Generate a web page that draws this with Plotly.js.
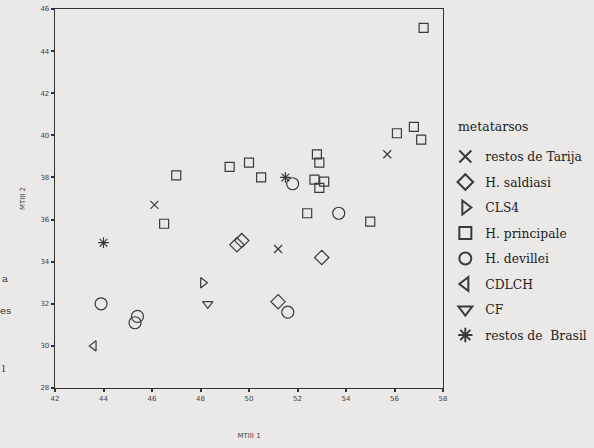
<!DOCTYPE html>
<html>
<head>
<meta charset="utf-8">
<script src="https://cdn.plot.ly/plotly-3.0.1.min.js"></script>
<style>html,body{margin:0;padding:0;background:#ebe8e8;}#chart{width:594px;height:448px;}</style>
</head>
<body>
<div id="chart"></div>
<script>
// Data (MTIII 1 vs MTIII 2)
const tarijaX = [46.1, 51.2, 55.7];
const tarijaY = [36.7, 34.6, 39.1];
const saldiasiX = [49.5, 49.7, 53.0, 51.2];
const saldiasiY = [34.8, 35.0, 34.2, 32.1];
const cls4X = [48.1];
const cls4Y = [33.0];
const principaleX = [47.0, 46.5, 49.2, 50.0, 50.5, 52.8, 52.9, 52.7, 53.1, 52.9, 52.4, 55.0, 56.1, 57.1, 57.2, 56.8];
const principaleY = [38.1, 35.8, 38.5, 38.7, 38.0, 39.1, 38.7, 37.9, 37.8, 37.5, 36.3, 35.9, 40.1, 39.8, 45.1, 40.4];
const devilleiX = [51.8, 53.7, 51.6, 43.9, 45.4, 45.3];
const devilleiY = [37.7, 36.3, 31.6, 32.0, 31.4, 31.1];
const cdlchX = [43.6];
const cdlchY = [30.0];
const cfX = [48.3];
const cfY = [32.0];
const brasilX = [44.0, 51.5];
const brasilY = [34.9, 38.0];
const seriesNames = ["restos de Tarija", "H. saldiasi", "CLS4", "H. principale", "H. devillei", "CDLCH", "CF", "restos de  Brasil"];
const legendTitle = "metatarsos";
const xTicks = [42, 44, 46, 48, 50, 52, 54, 56, 58];
const yTicks = [28, 30, 32, 34, 36, 38, 40, 42, 44, 46];

const ink = '#3a3a3a';
function tr(x, y, name, symbol, size, i) {
  return {
    type: 'scatter', mode: 'markers', x: x, y: y, name: name, legendgroup: 'g' + i,
    marker: {symbol: symbol, size: size, color: ink, line: {color: ink, width: 1.2}},
    hoverinfo: 'skip'
  };
}
const data = [
  tr(tarijaX, tarijaY, seriesNames[0], 'x-thin-open', 8, 0),
  tr(saldiasiX, saldiasiY, seriesNames[1], 'diamond-open', 11, 1),
  tr(cls4X, cls4Y, seriesNames[2], 'triangle-right-open', 9, 2),
  tr(principaleX, principaleY, seriesNames[3], 'square-open', 9, 3),
  tr(devilleiX, devilleiY, seriesNames[4], 'circle-open', 12, 4),
  tr(cdlchX, cdlchY, seriesNames[5], 'triangle-left-open', 9, 5),
  tr(cfX, cfY, seriesNames[6], 'triangle-down-open', 9, 6),
  tr(brasilX, brasilY, seriesNames[7], 'asterisk-open', 9, 7)
];

const axisCommon = {
  showgrid: false, zeroline: false, showline: true, linecolor: '#333', linewidth: 1.3,
  mirror: true, ticks: 'outside', ticklen: 3, tickwidth: 2, tickcolor: '#333',
  tickfont: {family: 'DejaVu Sans, sans-serif', size: 7, color: '#444'}
};
const serif = 'DejaVu Serif, serif';
const layout = {
  width: 594, height: 448,
  paper_bgcolor: '#ebe8e8', plot_bgcolor: '#ebe8e8',
  margin: {l: 55, r: 151, t: 9, b: 60, autoexpand: false},
  showlegend: true,
  xaxis: Object.assign({}, axisCommon, {
    range: [42, 58], tickvals: xTicks, ticktext: xTicks.map(String),
    title: {text: 'MTIII 1', standoff: 31, font: {family: 'DejaVu Sans, sans-serif', size: 7, color: '#444'}}
  }),
  yaxis: Object.assign({}, axisCommon, {
    range: [28, 46], tickvals: yTicks, ticktext: yTicks.map(String),
    title: {text: 'MTIII 2', standoff: 14, font: {family: 'DejaVu Sans, sans-serif', size: 7, color: '#444'}}
  }),
  legend: {
    x: 1.006, xanchor: 'left', y: (388 - 142) / 379, yanchor: 'top',
    bgcolor: 'rgba(0,0,0,0)', borderwidth: 0,
    itemsizing: 'constant', tracegroupgap: 6.5,
    font: {family: serif, size: 12.3, color: '#222'}
  },
  annotations: [
    {text: legendTitle, xref: 'paper', yref: 'paper', x: (456 - 55) / 388, y: (388 - 127) / 379, xanchor: 'left', yanchor: 'middle', showarrow: false, font: {family: serif, size: 12.5, color: '#222'}},
    {text: 'a', xref: 'paper', yref: 'paper', x: -55/388, y: (388-286)/379, xanchor: 'left', showarrow: false, font: {family: serif, size: 10, color: '#333'}},
    {text: 'es', xref: 'paper', yref: 'paper', x: -57/388, y: (388-318)/379, xanchor: 'left', showarrow: false, font: {family: serif, size: 10, color: '#333'}},
    {text: 'l', xref: 'paper', yref: 'paper', x: -55/388, y: (388-376)/379, xanchor: 'left', showarrow: false, font: {family: serif, size: 10, color: '#333'}}
  ]
};
Plotly.newPlot('chart', data, layout, {displayModeBar: false, staticPlot: true});
</script>
</body>
</html>
